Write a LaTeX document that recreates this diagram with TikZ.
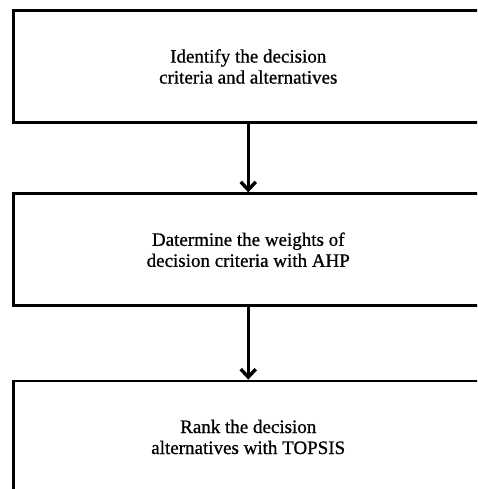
\documentclass[tikz,border=0pt]{standalone}
\usepackage{fontspec}
\setmainfont{Liberation Serif}[FakeBold=0.8]
\usetikzlibrary{arrows.meta}
\begin{document}
\begin{tikzpicture}[x=1pt,y=-1pt,
  stepbox/.style={draw=black, line width=2.8pt, minimum width=469.5pt, minimum height=112pt,
    inner sep=0pt, align=center, font=\fontsize{19}{21}\selectfont},
  flow/.style={line width=2.6pt, -{Straight Barb[length=8pt,width=15pt,line width=3.4pt]}}]
\useasboundingbox (0,0) rectangle (477,489);
\clip (0,0) rectangle (477,489);
\fill[white] (0,0) rectangle (477,489);
\node[stepbox] (b1) at (248.25,66.5) {Identify the decision\\criteria and alternatives};
\node[stepbox] (b2) at (248.25,249.75) {Datermine the weights of\\decision criteria with AHP};
\node[stepbox] (b3) at (248.25,437) {Rank the decision\\alternatives with TOPSIS};
\draw[flow] (b1.south) -- (b2.north);
\draw[flow] (b2.south) -- (b3.north);
\end{tikzpicture}
\end{document}
